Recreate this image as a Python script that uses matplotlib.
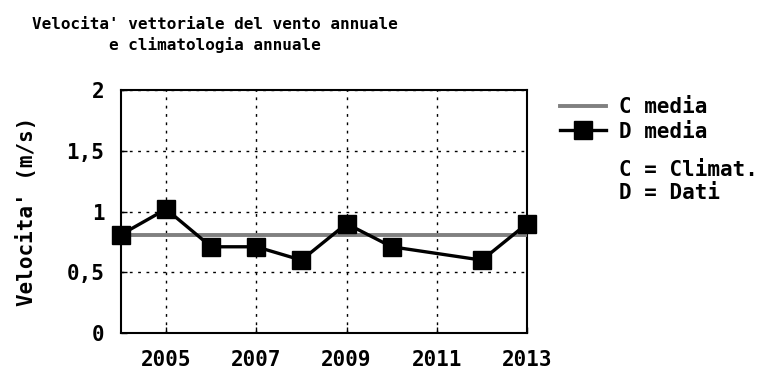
import matplotlib.pyplot as plt
from matplotlib.lines import Line2D

# annual vector wind speed (m/s); 2011 has no data
years = [2004, 2005, 2006, 2007, 2008, 2009, 2010, 2012, 2013]
speed = [0.81, 1.02, 0.71, 0.71, 0.60, 0.90, 0.71, 0.60, 0.90]
clim = 0.81
xticks = [2005, 2007, 2009, 2011, 2013]
yticks = [0, 0.5, 1, 1.5, 2]
ylabels = ["0", "0,5", "1", "1,5", "2"]

plt.rcParams['font.family'] = 'DejaVu Sans Mono'
plt.rcParams['font.weight'] = 'bold'
plt.rcParams['axes.labelweight'] = 'bold'

fig = plt.figure(figsize=(7.82, 3.72), dpi=100)
ax = fig.add_axes([0.1547, 0.1048, 0.5192, 0.653])

ax.plot([2004, 2013], [clim, clim], color='#808080', lw=2.8, zorder=3)
ax.plot(years, speed, color='black', lw=2.4, marker='s', ms=13,
        clip_on=False, zorder=4)

ax.set_xlim(2004, 2013)
ax.set_ylim(0, 2)
ax.set_xticks(xticks)
ax.set_yticks(yticks)
ax.set_yticklabels(ylabels)
ax.tick_params(direction='in', length=4, width=1, labelsize=15)
ax.tick_params(axis='x', pad=12)
ax.tick_params(axis='y', pad=12)
ax.grid(True, color='black', linestyle=(0, (2, 4)), lw=1)
for s in ax.spines.values():
    s.set_linewidth(1.5)

ax.set_ylabel("Velocita' (m/s)", fontsize=15, labelpad=21)

fig.text(0.275, 0.905, "Velocita' vettoriale del vento annuale\ne climatologia annuale",
         ha='center', va='center', fontsize=11.5, linespacing=1.4)

handles = [Line2D([], [], color='#808080', lw=2.8),
           Line2D([], [], color='black', lw=2.4, marker='s', ms=13)]
fig.legend(handles, ["C media", "D media"], loc='upper left',
           bbox_to_anchor=(0.716, 0.738), frameon=False, fontsize=15,
           handlelength=2.2, handletextpad=0.65, labelspacing=0.2,
           borderpad=0, borderaxespad=0)
fig.text(0.792, 0.513, "C = Climat.\nD = Dati", ha='left', va='center',
         fontsize=15, linespacing=1.2)

fig.savefig('out.png', dpi=100)
